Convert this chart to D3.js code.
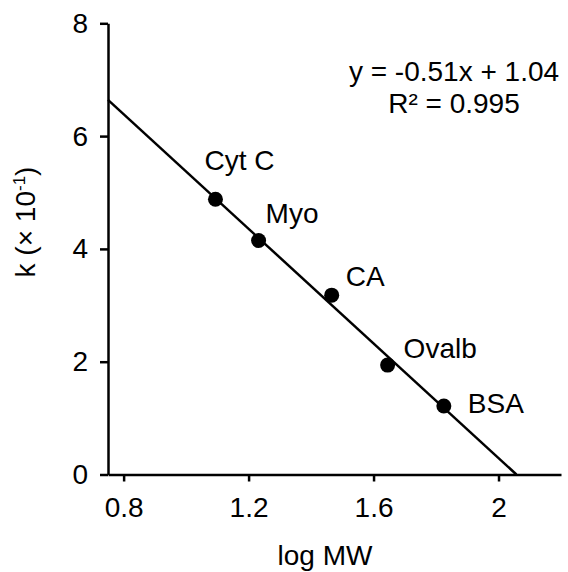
<!DOCTYPE html>
<html>
<head>
<meta charset="utf-8">
<script src="https://cdn.jsdelivr.net/npm/d3@7"></script>
<style>
  body { margin: 0; background: #fff; }
  text { font-family: "Liberation Sans", Arial, sans-serif; fill: #000; }
</style>
</head>
<body>
<svg id="chart" width="568" height="572"></svg>
<script>
// calibration standards
var proteins = ["Cyt C", "Myo", "CA", "Ovalb", "BSA"];
var logMW = [1.094, 1.232, 1.466, 1.645, 1.825];
var kValues = [4.88, 4.15, 3.18, 1.94, 1.215];
var xTicks = [0.8, 1.2, 1.6, 2];
var yTicks = [0, 2, 4, 6, 8];
var fitLines = ["y = -0.51x + 1.04", "R\u00b2 = 0.995"];
// label nudges relative to each dot (layout only)
var labelOffsets = [[-11, -29], [7, -17], [14, -9], [16, -7], [24, 7]];

var svg = d3.select("#chart");
var fontSize = 28;

var x = d3.scaleLinear().domain([0.75, 2.2]).range([108, 561]),
    y = d3.scaleLinear().domain([0, 8]).range([474.5, 23.3]);

var xAxis = d3.axisBottom(x).tickValues(xTicks).tickFormat(d3.format("")).tickSize(7).tickSizeOuter(0).tickPadding(16),
    yAxis = d3.axisLeft(y).tickValues(yTicks).tickSize(8).tickSizeOuter(0).tickPadding(12);

var gx = svg.append("g")
    .attr("transform", "translate(0," + y(0) + ")")
    .call(xAxis);
var gy = svg.append("g")
    .attr("transform", "translate(" + x(0.75) + ",0)")
    .call(yAxis);

[gx, gy].forEach(function(g) {
    g.selectAll("path, line").attr("stroke", "#000").attr("stroke-width", 2.5);
    g.selectAll("text").attr("font-size", fontSize).attr("font-family", null).attr("fill", "#000");
});

// least squares fit through the points
var data = logMW.map(function(v, i) { return {x: v, y: kValues[i], name: proteins[i]}; });
var mx = d3.mean(data, function(d) { return d.x; }),
    my = d3.mean(data, function(d) { return d.y; });
var slope = d3.sum(data, function(d) { return (d.x - mx) * (d.y - my); }) /
            d3.sum(data, function(d) { return (d.x - mx) * (d.x - mx); });
var intercept = my - slope * mx;
var fitPts = [{x: 0.75, y: intercept + slope * 0.75}, {x: -intercept / slope, y: 0}];

var line = d3.line()
    .x(function(d) { return x(d.x); })
    .y(function(d) { return y(d.y); });

svg.append("path")
    .datum(fitPts)
    .attr("d", line)
    .attr("fill", "none")
    .attr("stroke", "#000")
    .attr("stroke-width", 2.5);

svg.selectAll(".point")
    .data(data)
    .enter().append("circle")
    .attr("class", "point")
    .attr("cx", function(d) { return x(d.x); })
    .attr("cy", function(d) { return y(d.y); })
    .attr("r", 7.5)
    .attr("fill", "#000");

svg.selectAll(".plabel")
    .data(data)
    .enter().append("text")
    .attr("class", "plabel")
    .attr("x", function(d, i) { return x(d.x) + labelOffsets[i][0]; })
    .attr("y", function(d, i) { return y(d.y) + labelOffsets[i][1]; })
    .attr("font-size", fontSize)
    .text(function(d) { return d.name; });

// fit equation
svg.append("text")
    .attr("x", 454).attr("y", 81)
    .attr("text-anchor", "middle")
    .attr("font-size", fontSize)
    .text(fitLines[0]);
svg.append("text")
    .attr("x", 454).attr("y", 113)
    .attr("text-anchor", "middle")
    .attr("font-size", fontSize)
    .text(fitLines[1]);

// axis titles
svg.append("text")
    .attr("x", 325).attr("y", 565)
    .attr("text-anchor", "middle")
    .attr("font-size", fontSize)
    .text("log MW");

var yt = svg.append("text")
    .attr("transform", "translate(35,222) rotate(-90)")
    .attr("text-anchor", "middle")
    .attr("font-size", fontSize);
yt.append("tspan").text("k (\u00d7 10");
yt.append("tspan").attr("font-size", 17).attr("dy", -10).text("-1");
yt.append("tspan").attr("dy", 10).text(")");
</script>
</body>
</html>
